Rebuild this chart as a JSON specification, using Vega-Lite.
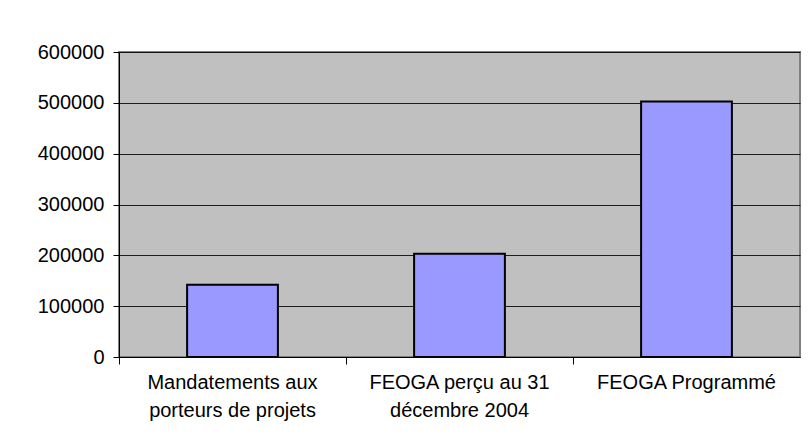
{
  "$schema": "https://vega.github.io/schema/vega-lite/v6.json",
  "width": 681,
  "height": 305,
  "autosize": {"type": "none"},
  "padding": {"left": 119, "top": 52, "right": 8, "bottom": 91},
  "background": "white",
  "config": {
    "font": "Liberation Sans",
    "view": {"fill": "#C0C0C0", "stroke": "#808080", "strokeWidth": 2}
  },
  "data": {
    "values": [
      {"category": "Mandatements aux porteurs de projets", "value": 142000},
      {"category": "FEOGA perçu au 31 décembre 2004", "value": 203000},
      {"category": "FEOGA Programmé", "value": 502500}
    ]
  },
  "resolve": {"axis": {"x": "independent"}},
  "layer": [
    {
      "mark": {"type": "bar", "fill": "#9999FF", "stroke": "#000000", "strokeWidth": 2, "width": {"band": 0.4}},
      "encoding": {
        "x": {
          "field": "category", "type": "nominal", "sort": null,
          "scale": {"paddingInner": 0, "paddingOuter": 0},
          "axis": {
            "title": null, "orient": "bottom", "bandPosition": 0.5,
            "domain": false, "ticks": false, "grid": false,
            "labelAngle": 0, "labelFontSize": 20, "labelColor": "#000000",
            "labelPadding": 15, "labelLineHeight": 28, "labelBaseline": "top",
            "labelLimit": 400,
            "labelExpr": "datum.value == 'Mandatements aux porteurs de projets' ? ['Mandatements aux', 'porteurs de projets'] : datum.value == 'FEOGA perçu au 31 décembre 2004' ? ['FEOGA perçu au 31', 'décembre 2004'] : datum.value"
          }
        },
        "y": {
          "field": "value", "type": "quantitative",
          "scale": {"domain": [0, 600000], "nice": false},
          "axis": {
            "title": null, "values": [0, 100000, 200000, 300000, 400000, 500000, 600000],
            "format": "d", "grid": true, "gridColor": "#000000", "gridWidth": 1, "gridOpacity": 0.85,
            "domain": true, "domainColor": "#000000", "domainWidth": 1,
            "ticks": true, "tickColor": "#000000", "tickSize": 6, "tickWidth": 1,
            "labelFontSize": 20, "labelColor": "#000000", "labelPadding": 9
          }
        }
      }
    },
    {
      "mark": {"type": "bar", "opacity": 0, "width": {"band": 0.4}},
      "encoding": {
        "x": {
          "field": "category", "type": "nominal", "sort": null,
          "axis": {
            "title": null, "orient": "bottom", "bandPosition": 0,
            "domain": true, "domainColor": "#000000", "domainWidth": 1,
            "ticks": true, "tickColor": "#000000", "tickSize": 7, "tickWidth": 1,
            "labels": false, "grid": false
          }
        },
        "y": {"field": "value", "type": "quantitative"}
      }
    }
  ]
}
